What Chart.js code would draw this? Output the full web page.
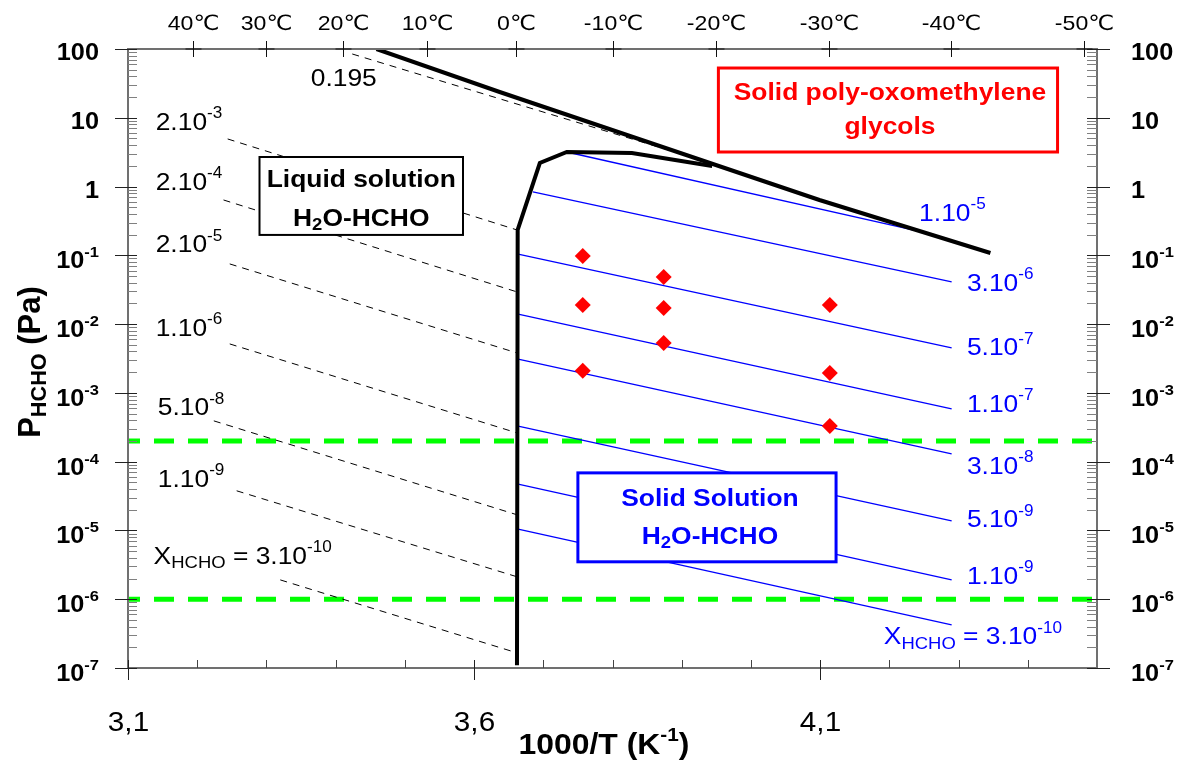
<!DOCTYPE html>
<html>
<head>
<meta charset="utf-8">
<script src="https://cdn.jsdelivr.net/npm/chart.js@4.4.1/dist/chart.umd.min.js"></script>
<style>
  html, body { margin: 0; padding: 0; background: #fff; }
  canvas { display: block; }
</style>
</head>
<body>
<canvas id="chart" width="1183" height="762"></canvas>
<script>
// ---- values (x = 1000/T in K^-1, y = P_HCHO in Pa) ----
const xMin = 3.1, xMax = 4.5;
const pMin = 1e-7, pMax = 100;
const xTickValues = [3.1, 3.6, 4.1];
const xTickLabels = ['3,1', '3,6', '4,1'];
const pTickValues = [100, 10, 1, 1e-1, 1e-2, 1e-3, 1e-4, 1e-5, 1e-6, 1e-7];
const pTickLabels = ['100', '10', '1', '10^{-1}', '10^{-2}', '10^{-3}', '10^{-4}', '10^{-5}', '10^{-6}', '10^{-7}'];
const celsiusTicks = [40, 30, 20, 10, 0, -10, -20, -30, -40, -50];

// saturation line of solid poly-oxomethylene glycols
const polymerX = [3.459, 3.637, 4.099, 4.346];
const polymerP = [100, 23.7, 0.638, 0.108];

// boundary liquid solution / solid solution
const boundaryX = [3.662, 3.663, 3.695, 3.734, 3.828, 3.944];
const boundaryP = [1.1e-7, 0.234, 2.20, 3.18, 3.08, 1.99];

// isopleths in the liquid solution (dashed)
const liquidLabels = ['0.195', '2.10^{-3}', '2.10^{-4}', '2.10^{-5}', '1.10^{-6}', '5.10^{-8}', '1.10^{-9}', 'X_{HCHO} = 3.10^{-10}'];
const liquidStartX = [3.424, 3.244, 3.238, 3.247, 3.247, 3.224, 3.257, 3.320];
const liquidStartP = [84.6, 4.92, 0.638, 0.0750, 0.00515, 3.92e-4, 3.77e-5, 1.91e-6];
const liquidEndX = [3.930, 3.662, 3.662, 3.662, 3.662, 3.662, 3.662, 3.662];
const liquidEndP = [2.4, 0.234, 0.0294, 0.00381, 2.62e-4, 1.69e-5, 2.12e-6, 1.66e-7];

// isopleths in the solid solution (blue)
const solidLabels = ['1.10^{-5}', '3.10^{-6}', '5.10^{-7}', '1.10^{-7}', '3.10^{-8}', '5.10^{-9}', '1.10^{-9}', 'X_{HCHO} = 3.10^{-10}'];
const solidStartX = [3.734, 3.685, 3.662, 3.662, 3.662, 3.662, 3.662, 3.662];
const solidStartP = [3.18, 0.836, 0.105, 0.0141, 0.00312, 3.31e-4, 4.75e-5, 1.05e-5];
const solidEndX = [4.253, 4.290, 4.290, 4.290, 4.290, 4.290, 4.290, 4.290];
const solidEndP = [0.212, 0.041, 0.00451, 5.85e-4, 1.30e-4, 1.38e-5, 1.91e-6, 4.25e-7];

// measured points (red diamonds)
const sampleX = [3.757, 3.874, 3.757, 3.874, 4.114, 3.874, 3.757, 4.114, 4.114];
const sampleP = [0.098, 0.0485, 0.019, 0.0172, 0.019, 0.00533, 0.00209, 0.00195, 3.3e-4];

// horizontal green limits
const limitP = [2e-4, 1e-6];

// ---- where the text sits (data coordinates) ----
const liquidLabelX = [3.364, 3.140, 3.140, 3.140, 3.140, 3.143, 3.143, 3.137];
const liquidLabelP = [39.2, 8.97, 1.20, 0.147, 0.0091, 6.27e-4, 5.8e-5, 4.4e-6];
const solidLabelX = [4.243, 4.312, 4.312, 4.312, 4.312, 4.312, 4.312, 4.192];
const solidLabelP = [0.428, 0.041, 0.00467, 7.16e-4, 8.97e-5, 1.48e-5, 2.26e-6, 2.94e-7];

const boxes = [
  { x1: 3.290, p1: 2.69, x2: 3.584, p2: 0.198, color: '#000000', lw: 2, lines: ['Liquid solution', 'H_{2}O-HCHO'], dy: [21, 60], dx: 0 },
  { x1: 3.953, p1: 52.9, x2: 4.443, p2: 3.18, color: '#ff0000', lw: 3, lines: ['Solid poly-oxomethylene', 'glycols'], dy: [23, 57], dx: 2 },
  { x1: 3.750, p1: 6.87e-5, x2: 4.123, p2: 3.5e-6, color: '#0000ff', lw: 3, lines: ['Solid Solution', 'H_{2}O-HCHO'], dy: [24, 62], dx: 3 }
];

const FAMILY = '"Liberation Sans", Arial, "DejaVu Sans", sans-serif';
const SX = 1.1; // the original lettering is a little wide

function pts(xs, ps) { return xs.map(function(x, i) { return { x: x, y: ps[i] }; }); }

// draws text with ^{sup} and _{sub} parts, y is the middle of the capitals
function drawRich(ctx, str, x, y, o) {
  var size = o.size, sx = o.sx || 1, weight = o.bold ? 'bold ' : '';
  var parts = [];
  str.split(/(\^\{[^}]*\}|_\{[^}]*\})/).forEach(function(s) {
    if (!s) return;
    if (s[0] === '^') parts.push({ t: s.slice(2, -1), k: 0.65, dy: -0.47 });
    else if (s[0] === '_') parts.push({ t: s.slice(2, -1), k: 0.7, dy: 0.2 });
    else parts.push({ t: s, k: 1, dy: 0 });
  });
  var w = 0;
  parts.forEach(function(p) {
    ctx.font = weight + (size * p.k).toFixed(1) + 'px ' + FAMILY;
    p.w = ctx.measureText(p.t).width * sx;
    w += p.w;
  });
  var cx = o.align === 'center' ? x - w / 2 : (o.align === 'right' ? x - w : x);
  var base = y + size * 0.36;
  ctx.fillStyle = o.color || '#000';
  ctx.textAlign = 'left';
  ctx.textBaseline = 'alphabetic';
  parts.forEach(function(p) {
    ctx.font = weight + (size * p.k).toFixed(1) + 'px ' + FAMILY;
    ctx.save();
    ctx.translate(cx, base + p.dy * size);
    ctx.scale(sx, 1);
    ctx.fillText(p.t, 0, 0);
    ctx.restore();
    cx += p.w;
  });
}

function line(ctx, x1, y1, x2, y2) {
  ctx.beginPath(); ctx.moveTo(x1, y1); ctx.lineTo(x2, y2); ctx.stroke();
}

const decor = {
  id: 'decor',
  afterDraw: function(chart) {
    var ctx = chart.ctx, xs = chart.scales.x, ys = chart.scales.y, a = chart.chartArea;
    ctx.save();

    // boxes over the lines
    boxes.forEach(function(b) {
      var l = xs.getPixelForValue(b.x1), r = xs.getPixelForValue(b.x2);
      var t = ys.getPixelForValue(b.p1), btm = ys.getPixelForValue(b.p2);
      ctx.fillStyle = '#fff';
      ctx.fillRect(l, t, r - l, btm - t);
      ctx.strokeStyle = b.color;
      ctx.lineWidth = b.lw;
      ctx.strokeRect(l, t, r - l, btm - t);
      b.lines.forEach(function(s, i) {
        drawRich(ctx, s, (l + r) / 2 + b.dx, t + b.dy[i], { size: 24, bold: true, sx: SX, align: 'center', color: b.color });
      });
    });

    // frame
    ctx.strokeStyle = '#707070';
    ctx.lineWidth = 2;
    ctx.strokeRect(a.left, a.top, a.right - a.left, a.bottom - a.top);

    // log ticks left / right
    ctx.lineWidth = 1;
    for (var n = -7; n <= 1; n++) {
      for (var m = 2; m <= 9; m++) {
        var py = Math.round(ys.getPixelForValue(m * Math.pow(10, n))) + 0.5;
        ctx.strokeStyle = '#808080';
        line(ctx, a.left, py, a.left + 9, py);
        line(ctx, a.right - 10, py, a.right, py);
      }
    }
    ctx.strokeStyle = '#222';
    pTickValues.forEach(function(v, i) {
      var py = Math.round(ys.getPixelForValue(v)) + 0.5;
      line(ctx, a.left - 13, py, a.left + 9, py);
      line(ctx, a.right - 10, py, a.right + 13, py);
      var plain = pTickLabels[i].indexOf('^') < 0;
      var yy = py + (plain ? 2 : 4);
      drawRich(ctx, pTickLabels[i], 99, yy, { size: 23, bold: true, sx: SX, align: 'right' });
      drawRich(ctx, pTickLabels[i], a.right + 34, yy, { size: 23, bold: true, sx: SX, align: 'left' });
    });

    // bottom ticks
    ctx.strokeStyle = '#444';
    for (var k = 1; k < 14; k++) {
      var px = Math.round(xs.getPixelForValue(xMin + k * 0.1)) + 0.5;
      line(ctx, px, a.bottom - 8, px, a.bottom);
    }
    ctx.strokeStyle = '#222';
    xTickValues.forEach(function(v, i) {
      var px = Math.round(xs.getPixelForValue(v)) + 0.5;
      line(ctx, px, a.bottom - 8, px, a.bottom + 12);
      drawRich(ctx, xTickLabels[i], px, 721, { size: 27, sx: SX, align: 'center' });
    });

    // top axis in degrees Celsius
    celsiusTicks.forEach(function(c) {
      var px = Math.round(xs.getPixelForValue(1000 / (c + 273.15))) + 0.5;
      ctx.strokeStyle = '#111';
      line(ctx, px, a.top - 8, px, a.top + 8);
      line(ctx, px - 8, a.top, px + 8, a.top);
      drawRich(ctx, c + '\u2103', px, 22, { size: 21, sx: SX, align: 'center' });
    });

    // isopleth labels
    liquidLabels.forEach(function(s, i) {
      drawRich(ctx, s, xs.getPixelForValue(liquidLabelX[i]), ys.getPixelForValue(liquidLabelP[i]), { size: 24, sx: SX, align: 'left', color: '#000' });
    });
    solidLabels.forEach(function(s, i) {
      drawRich(ctx, s, xs.getPixelForValue(solidLabelX[i]), ys.getPixelForValue(solidLabelP[i]), { size: 24, sx: SX, align: 'left', color: '#0000ff' });
    });

    // axis titles
    drawRich(ctx, '1000/T (K^{-1})', 604, 744, { size: 29, bold: true, sx: SX, align: 'center' });
    ctx.save();
    ctx.translate(29, 362);
    ctx.rotate(-Math.PI / 2);
    drawRich(ctx, 'P_{HCHO} (Pa)', 0, 0, { size: 31, bold: true, sx: 1, align: 'center' });
    ctx.restore();

    ctx.restore();
  }
};

const datasets = [];
datasets.push({
  label: 'samples', data: pts(sampleX, sampleP), showLine: false,
  pointStyle: 'rectRot', pointRadius: 8, backgroundColor: '#ff0000', borderColor: '#ff0000', borderWidth: 0, order: 0
});
datasets.push({
  label: 'polymer', data: pts(polymerX, polymerP), showLine: true,
  borderColor: '#000', borderWidth: 4, pointRadius: 0, order: 1
});
datasets.push({
  label: 'boundary', data: pts(boundaryX, boundaryP), showLine: true,
  borderColor: '#000', borderWidth: 4, pointRadius: 0, order: 1
});
solidLabels.forEach(function(s, i) {
  datasets.push({
    label: 'solid ' + s, data: [{ x: solidStartX[i], y: solidStartP[i] }, { x: solidEndX[i], y: solidEndP[i] }],
    showLine: true, borderColor: '#0000ff', borderWidth: 1.3, pointRadius: 0, order: 2
  });
});
liquidLabels.forEach(function(s, i) {
  datasets.push({
    label: 'liquid ' + s, data: [{ x: liquidStartX[i], y: liquidStartP[i] }, { x: liquidEndX[i], y: liquidEndP[i] }],
    showLine: true, borderColor: '#000', borderWidth: 1, borderDash: [7, 6], pointRadius: 0, order: 3
  });
});
limitP.forEach(function(p) {
  datasets.push({
    label: 'limit ' + p, data: [{ x: xMin, y: p }, { x: xMax, y: p }],
    showLine: true, borderColor: '#00ff00', borderWidth: 5, borderDash: [20, 14], borderDashOffset: 8, pointRadius: 0, order: 4
  });
});

new Chart(document.getElementById('chart'), {
  type: 'scatter',
  data: { datasets: datasets },
  options: {
    responsive: false,
    devicePixelRatio: 1,
    animation: false,
    layout: { padding: { left: 128, top: 49, right: 86, bottom: 94 } },
    plugins: { legend: { display: false }, tooltip: { enabled: false } },
    scales: {
      x: { type: 'linear', min: xMin, max: xMax, display: false },
      y: { type: 'logarithmic', min: pMin, max: pMax, display: false }
    }
  },
  plugins: [decor]
});
</script>
</body>
</html>
